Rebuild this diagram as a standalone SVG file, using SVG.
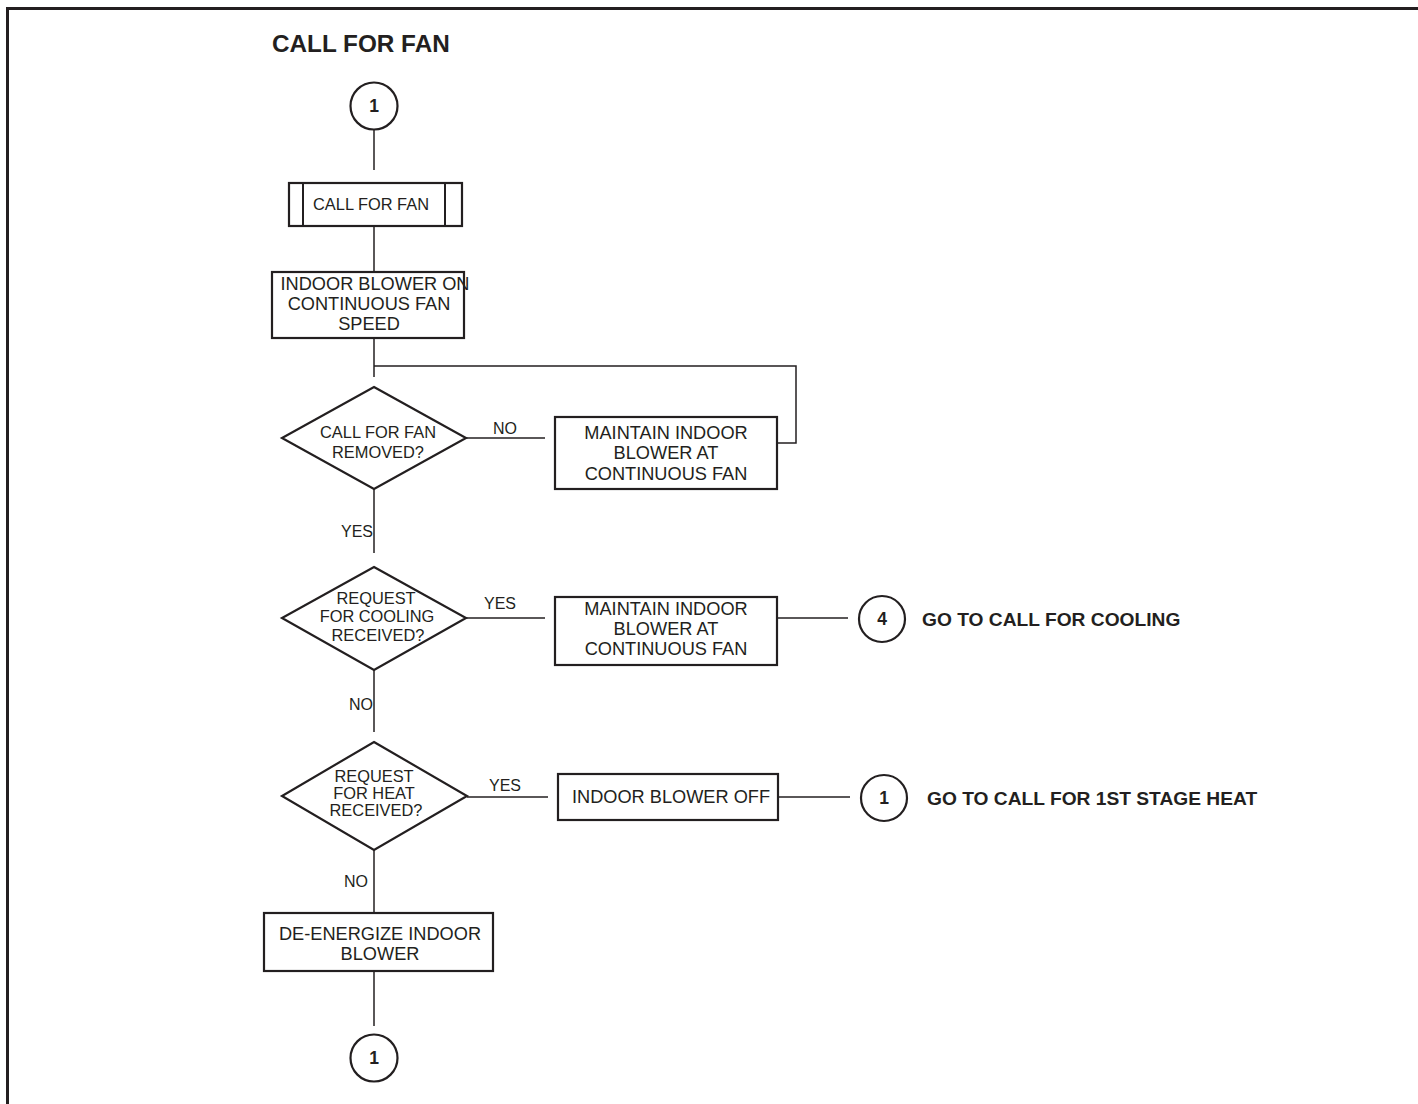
<svg xmlns="http://www.w3.org/2000/svg" width="1418" height="1104" viewBox="0 0 1418 1104">
<style>
text{font-family:"Liberation Sans",Arial,sans-serif;fill:#231f20}
.box{fill:#fff;stroke:#231f20;stroke-width:2.2}
.ln{fill:none;stroke:#231f20;stroke-width:1.5}
.t16{font-size:16.4px;text-anchor:middle}
.t17{font-size:18.2px;text-anchor:middle}
.lbl{font-size:16px}
.num{font-size:17.5px;font-weight:bold;text-anchor:middle}
.go{font-size:19.2px;font-weight:bold}
</style>
<rect width="1418" height="1104" fill="#fff"/>
<path d="M7.5,1104 V8.5 H1418" fill="none" stroke="#231f20" stroke-width="3"/>
<text x="272" y="52" style="font-size:24.3px;font-weight:bold">CALL FOR FAN</text>

<g id="connectors">
<path class="ln" d="M374,130 V170"/>
<path class="ln" d="M374,226 V271"/>
<path class="ln" d="M374,338 V377"/>
<path class="ln" d="M374,366 H796 V443 H777"/>
<path class="ln" d="M466,438 H545"/>
<path class="ln" d="M374,489 V553"/>
<path class="ln" d="M466,618 H545"/>
<path class="ln" d="M777,618 H848"/>
<path class="ln" d="M374,670 V732"/>
<path class="ln" d="M467,797 H548"/>
<path class="ln" d="M778,797 H850"/>
<path class="ln" d="M374,850 V913"/>
<path class="ln" d="M374,971 V1026"/>
<text class="lbl" x="505" y="434" text-anchor="middle">NO</text>
<text class="lbl" x="373" y="537" text-anchor="end">YES</text>
<text class="lbl" x="500" y="609" text-anchor="middle">YES</text>
<text class="lbl" x="373" y="710" text-anchor="end">NO</text>
<text class="lbl" x="505" y="791" text-anchor="middle">YES</text>
<text class="lbl" x="368" y="887" text-anchor="end">NO</text>
</g>

<g id="start">
<circle class="box" cx="374" cy="106" r="23.5"/>
<text class="num" x="374" y="112">1</text>
</g>

<g id="call-for-fan">
<rect class="box" x="289" y="183" width="173" height="43"/>
<path class="ln" d="M303,183 V226 M445,183 V226" style="stroke-width:2"/>
<text class="t16" x="371" y="210">CALL FOR FAN</text>
</g>

<g id="blower-on">
<rect class="box" x="272" y="272" width="192" height="66"/>
<text class="t17" x="375" y="290">INDOOR BLOWER ON</text>
<text class="t17" x="369" y="310">CONTINUOUS FAN</text>
<text class="t17" x="369" y="330">SPEED</text>
</g>

<g id="fan-removed">
<polygon class="box" points="374,387 466,438 374,489 282,438"/>
<text class="t16" x="378" y="438">CALL FOR FAN</text>
<text class="t16" x="378" y="458">REMOVED?</text>
</g>

<g id="maintain-1">
<rect class="box" x="555" y="417" width="222" height="72"/>
<text class="t17" x="666" y="439">MAINTAIN INDOOR</text>
<text class="t17" x="666" y="459">BLOWER AT</text>
<text class="t17" x="666" y="480">CONTINUOUS FAN</text>
</g>

<g id="cooling-request">
<polygon class="box" points="374,567 466,618 374,670 282,618"/>
<text class="t16" x="376" y="604">REQUEST</text>
<text class="t16" x="377" y="622">FOR COOLING</text>
<text class="t16" x="378" y="641">RECEIVED?</text>
</g>

<g id="maintain-2">
<rect class="box" x="555" y="597" width="222" height="68"/>
<text class="t17" x="666" y="615">MAINTAIN INDOOR</text>
<text class="t17" x="666" y="635">BLOWER AT</text>
<text class="t17" x="666" y="655">CONTINUOUS FAN</text>
</g>

<g id="goto-cooling">
<circle class="box" cx="882" cy="619" r="23"/>
<text class="num" x="882" y="625">4</text>
<text class="go" x="922" y="626">GO TO CALL FOR COOLING</text>
</g>

<g id="heat-request">
<polygon class="box" points="374,742 467,796 374,850 282,796"/>
<text class="t16" x="374" y="782">REQUEST</text>
<text class="t16" x="374" y="799">FOR HEAT</text>
<text class="t16" x="376" y="816">RECEIVED?</text>
</g>

<g id="blower-off">
<rect class="box" x="558" y="774" width="220" height="46"/>
<text class="t17" x="671" y="803">INDOOR BLOWER OFF</text>
</g>

<g id="goto-heat">
<circle class="box" cx="884" cy="798" r="23"/>
<text class="num" x="884" y="804">1</text>
<text class="go" x="927" y="805">GO TO CALL FOR 1ST STAGE HEAT</text>
</g>

<g id="de-energize">
<rect class="box" x="264" y="913" width="229" height="58"/>
<text class="t17" x="380" y="940">DE-ENERGIZE INDOOR</text>
<text class="t17" x="380" y="960">BLOWER</text>
</g>

<g id="end">
<circle class="box" cx="374" cy="1058" r="23.5"/>
<text class="num" x="374" y="1064">1</text>
</g>
</svg>
